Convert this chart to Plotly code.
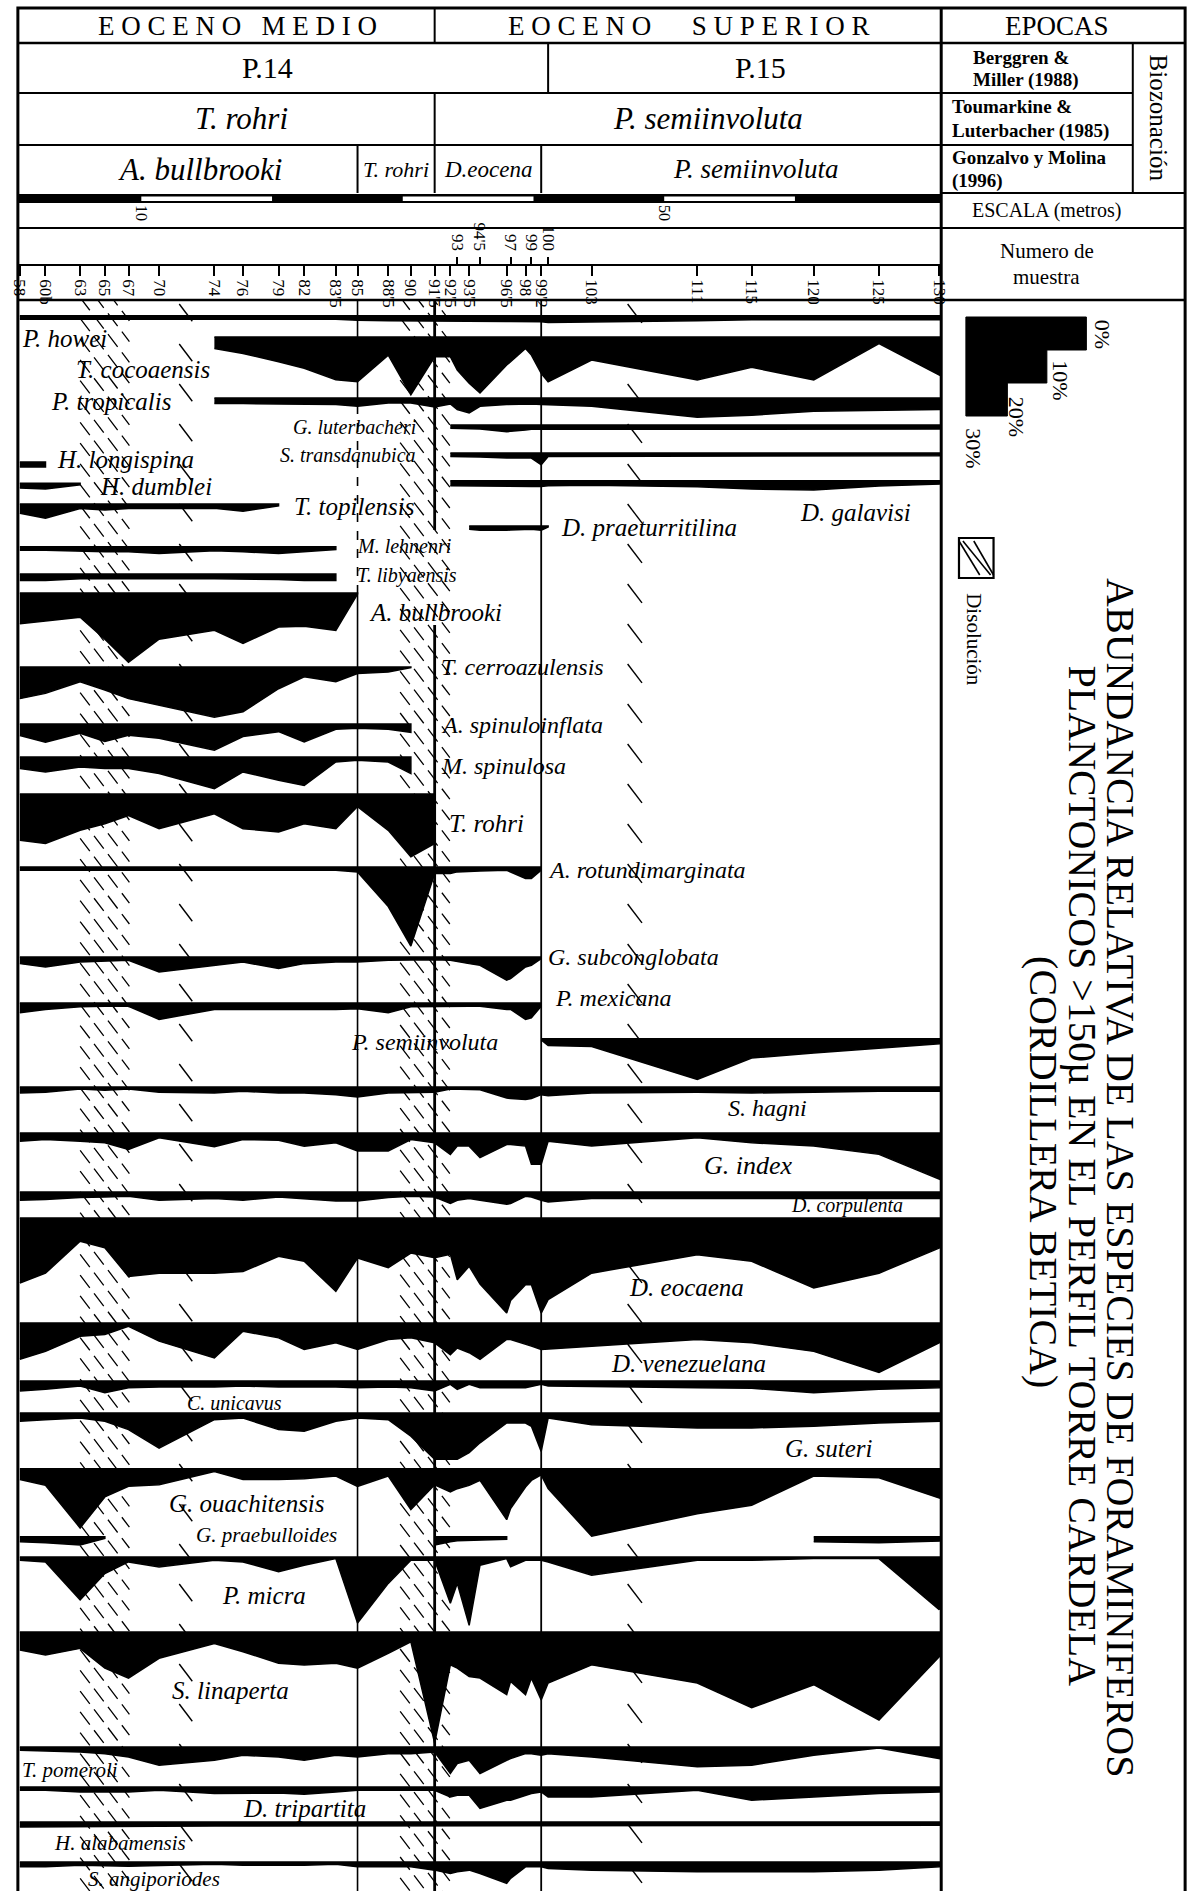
import plotly.graph_objects as go

W, H = 1202, 1891
SERIF = "Liberation Serif"
N = None

# ---------------- sample axis (stratigraphic position, metres) ----------------
sample_labels = ["58", "60b", "63", "65", "67", "70", "74", "76", "79", "82", "83'5", "85", "88'5", "90",
                 "91'5", "92'5", "93", "93'5", "94'5", "96'5", "97", "98", "99", "99'2", "100", "103",
                 "111", "115", "120", "125", "130"]
sample_m = [0.71, 2.67, 5.32, 7.21, 9.02, 11.36, 15.59, 17.78, 20.50, 22.46, 24.88, 26.54, 28.89, 30.62,
            32.44, 33.64, 34.17, 35.08, 35.91, 37.95, 38.25, 39.39, 39.84, 40.59, 41.12, 44.45,
            52.53, 56.69, 61.44, 66.43, 71.04]
upper_row_labels = ["93", "94'5", "97", "99", "100"]

# zone boundaries (by sample)
epoch_boundary = "91'5"
pzone_boundary = "100"
biozone_boundaries = ["85", "91'5", "99'2"]

# scale bar (metres)
scale_bar_m = [0, 10, 20, 30, 40, 50, 60, 70]
scale_labels_m = [10, 50]

# dissolution intervals (metres)
dissolution_bands_m = [(5.32, 9.09), (29.8, 33.6)]
dissolution_marks_m = [(12.9, 13.9), (47.2, 48.3)]

# ---------------- relative abundance (%) per sample ----------------
p_howei = [1, 1, 1, 1, 1, 1, 1, 1, 1, 1, 1, 1.3, 1.5, 1.5, 1.5, 1.5, 1.6, 1.7, 1.7, 1.7, 1.7, 1.7, 1.7, 1.8,
           2, 2, 1.5, 1.2, 1.2, 1.2, 1.2]
t_cocoaensis = [N, N, N, N, N, N, 3.5, 5, 7.5, 9.5, 13, 13.6, 5.5, 17.5, 6, 6, 10, 14, 17, 8.5, 7.5, 3.5, 5.5,
                11, 13.6, 7, 13, 9.2, 13, 2, 11.5]
p_tropicalis = [N, N, N, N, N, N, 1.7, 1.7, 1.8, 1.8, 2, 2.5, 1.5, 1.5, 2.7, 1.8, 3.5, 4.5, 2.5, 2, 2, 1.8, 1.8,
                2, 2.2, 2.5, 5.8, 5.2, 4, 3.7, 3.5]
g_luterbacheri = [N] * 15 + [1, 1, 1.2, 1.2, 2, 2, 1.5, 1.3, 1.2, 1.2, 1.2, 1.2, 1.2, 1.2, 1.2, 1.2]
s_transdanubica = [N] * 15 + [1, 1, 1.2, 1.2, 1.5, 1.5, 1.5, 1.5, 3.5, 1, 0.8, 0.8, 0.8, 0.8, 0.8, 0.8]
d_galavisi = [N] * 15 + [1.5, 1.5, 1.7, 1.5, 1.7, 1.7, 1.7, 1.7, 1.7, 1.5, 1.3, 1.8, 2.5, 2.8, 1.6, 1]
d_praeturritilina = [N] * 17 + [1, 1.3, 1.3, 1.2, 1, 1, 1.3, 0.3] + [N] * 6
h_longispina = [1.5, 1.5] + [N] * 29
h_dumblei = [1.5, 1.8, 0.5] + [N] * 28
t_topilensis = [2.8, 4.3, 1.4, 1.8, 1.4, 1.5, 1.3, 2.2, 0.6] + [N] * 22
m_lehnenri = [1, 1, 1.2, 1.5, 1.5, 2, 1.2, 1.5, 2, 1.5, 0.8] + [N] * 20
t_libyaensis = [2, 2, 1.5, 1.5, 1.5, 1.5, 1.5, 1.5, 1.7, 2, 2] + [N] * 20
a_bullbrooki = [9.3, 8.5, 7.3, 14, 21, 14, 11.3, 15.3, 10.3, 10.1, 11.3, 0.3] + [N] * 19
t_cerroazulensis = [9.6, 8, 4.5, 7, 9.6, 11.6, 15.2, 13.6, 6.6, 3, 4.5, 2, 1.5, 0.2] + [N] * 17
a_spinuloinflata = [3.5, 5.5, 2.8, 5.3, 3.4, 4.3, 7.9, 3.8, 2.3, 5.4, 1.6, 1.3, 1.6, 2.5] + [N] * 17
m_spinulosa = [3.5, 4.5, 3, 3.5, 3.5, 5, 9.6, 4.5, 7, 8.6, 1.5, 1, 1.5, 5] + [N] * 17
t_rohri = [14, 15, 11, 9, 6.5, 10.5, 6, 10.5, 11.5, 9, 10.5, 3.8, 11, 19, 15] + [N] * 16
a_rotundimarginata = [1] * 11 + [1.5, 12, 24, 2, 2, 1.5, 1.3, 1.2, 1, 1.5, 3.5, 3.5, 1] + [N] * 7
g_subconglobata = [2, 3, 1.5, 1.2, 1, 4.5, 2.5, 1.5, 3.5, 2, 1.5, 1.5, 1, 0.8, 0.8, 1, 1.5, 2, 2.5, 7, 6.5,
                   3, 2.5, 0.5] + [N] * 7
p_mexicana = [3, 2, 1.2, 1, 1, 5, 2, 1.8, 2, 2, 2, 1.8, 3, 1.2, 1, 1, 1, 1, 1, 2, 2, 5, 4.5, 1] + [N] * 7
p_semiinvoluta = [N] * 23 + [0.3, 2, 2.3, 12.3, 5.8, 4.3, 2.8, 1.5]
s_hagni = [1.8, 1.6, 0.6, 1, 0.6, 1.6, 1.8, 1.3, 1.8, 1.8, 2.3, 3, 1.8, 1.6, 1.6, 0.6, 0.6, 0.8, 0.8, 3.3,
           3.5, 3.8, 3.5, 2.3, 2.6, 1.8, 1.6, 1.8, 1.6, 1.3, 1.3]
g_index = [2.5, 2, 2.5, 3, 5, 1.5, 4.2, 2, 2.2, 4, 3, 5.5, 5.5, 2, 3, 6.5, 4, 4, 7.5, 3.5, 3.5, 4, 9.5, 9.5,
           2.5, 4, 1.5, 3, 4, 6.5, 14]
d_corpulenta = [2.5, 2.3, 1.7, 1.5, 1.3, 2.5, 2, 2.5, 1.5, 2, 2.7, 2.7, 1.7, 1.3, 1.5, 3.5, 2.5, 2, 2.5, 3.7,
                3.5, 1.3, 1.5, 2.5, 3, 2, 1.8, 1.8, 2, 2, 2]
d_eocaena = [19.7, 16.7, 7, 9, 17.7, 16.7, 16.7, 16.2, 11.6, 13.1, 22.2, 12.1, 15, 10.6, 12, 11, 18.7, 14.6,
             20, 28.8, 25, 20.2, 20.2, 28.8, 24.7, 16.7, 11.1, 13.1, 21.2, 16.7, 9.1]
d_venezuelana = [11, 8.6, 4, 3.5, 1, 5.5, 10.6, 2.5, 4.5, 8, 6, 8, 5, 4.5, 6, 9.6, 7.6, 9, 11, 5, 5, 6.5, 7,
                 8, 8, 7, 5, 6, 8.6, 15, 6]
c_unicavus = [3, 2.5, 1.5, 3.5, 2, 1.8, 1.8, 1.5, 1.8, 1.8, 1.8, 2, 1.8, 2, 3, 1, 2.5, 1, 2, 2, 2, 2, 1.5, 1,
              1.5, 1.5, 2, 2.2, 3.5, 2.5, 2]
g_suteri = [2.5, 2, 1.5, 2.5, 5, 10.6, 2, 1.5, 5, 5.5, 2.5, 1.5, 2, 7, 14, 14, 14, 12, 9, 3, 3, 3, 4, 11.6,
            1.5, 3.5, 4.5, 4.5, 4, 3, 2.5]
g_ouachitensis = [3.2, 5, 17.9, 8.5, 5.3, 4.8, 0.8, 3.2, 3.2, 3, 2.2, 5.3, 2.2, 12.3, 4.8, 7, 6, 5, 3.5, 15.4,
                  12, 5.5, 3.5, 1.8, 6, 20.4, 13.6, 11, 2.2, 2.7, 8.8]
g_praebulloides = [1.5, 1.8, 2.5, 0.5] + [N] * 10 + [2.5, 1.5, 1.2, 1, 1, 0.7] + [N] * 8 + [1.5, 1.8, 1.3]
p_micra = [1, 1.5, 13, 5, 1.5, 3, 1, 1.5, 4.5, 2.5, 0.5, 20, 8, 1, 1, 14, 8, 20.7, 2.5, 0.5, 3, 1, 1, 1, 1.5,
           5.5, 1, 1, 0.5, 0.5, 16]
s_linaperta = [5.5, 7, 5, 11, 14, 8, 3.5, 6, 9.5, 10, 9.5, 11, 6.5, 3, 33.7, 10, 11, 13.5, 14, 19, 15, 19, 14,
               20.6, 15.5, 10, 15.5, 23, 16, 26.7, 7.5]
t_pomeroli = [1, 1.3, 1.5, 2, 3, 5.5, 4, 2.5, 3, 4, 2.5, 3, 2, 2, 1.5, 8, 5, 4, 8, 4, 3.5, 2, 2, 2.5, 2, 3, 6,
              5.5, 2.5, 0.3, 3.5]
d_tripartita = [1, 1, 1.5, 1.5, 1.5, 1, 2, 2, 1.8, 2.2, 1.5, 1, 1, 1, 1, 3, 2.5, 2.5, 6.5, 4, 4, 2.5, 2, 1.5,
                3, 3, 1, 4, 3, 2, 1.5]
h_alabamensis = [1.5, 1.5, 1.4, 1.4, 1.3, 1.3, 1.2, 1.2, 1.2, 1.2, 1.1, 1.1, 1.1, 1, 1, 1, 1, 1, 1, 1, 1, 1,
                 1, 1, 1, 1, 1, 1, 1, 1, 1]
s_angiporiodes = [1.5, 1.5, 1, 1.2, 1.3, 1, 0.7, 1, 1, 1, 0.7, 1.5, 1.5, 1.5, 2.5, 3.5, 3, 2.5, 3.5, 6.5, 5,
                  1.5, 1.5, 1.5, 2, 2.5, 3, 3, 3, 2.5, 1.5]

species_names = ["P. howei", "T. cocoaensis", "P. tropicalis", "G. luterbacheri", "S. transdanubica",
                 "H. longispina", "D. galavisi", "H. dumblei", "T. topilensis", "D. praeturritilina",
                 "M. lehnenri", "T. libyaensis", "A. bullbrooki", "T. cerroazulensis", "A. spinuloinflata",
                 "M. spinulosa", "T. rohri", "A. rotundimarginata", "G. subconglobata", "P. mexicana",
                 "P. semiinvoluta", "S. hagni", "G. index", "D. corpulenta", "D. eocaena", "D. venezuelana",
                 "C. unicavus", "G. suteri", "G. ouachitensis", "G. praebulloides", "P. micra",
                 "S. linaperta", "T. pomeroli", "D. tripartita", "H. alabamensis", "S. angiporiodes"]
species_values = [p_howei, t_cocoaensis, p_tropicalis, g_luterbacheri, s_transdanubica, h_longispina,
                  d_galavisi, h_dumblei, t_topilensis, d_praeturritilina, m_lehnenri, t_libyaensis,
                  a_bullbrooki, t_cerroazulensis, a_spinuloinflata, m_spinulosa, t_rohri, a_rotundimarginata,
                  g_subconglobata, p_mexicana, p_semiinvoluta, s_hagni, g_index, d_corpulenta, d_eocaena,
                  d_venezuelana, c_unicavus, g_suteri, g_ouachitensis, g_praebulloides, p_micra,
                  s_linaperta, t_pomeroli, d_tripartita, h_alabamensis, s_angiporiodes]
# row baselines, measured in % units down from the top of the panel
row_baseline = [4.8, 11.2, 29.7, 37.9, 46.4, 49.1, 54.8, 55.5, 61.8, 68.5, 74.8, 83.0, 88.8, 111.2, 128.5,
                138.5, 149.7, 171.8, 199.1, 213.0, 223.9, 238.5, 252.4, 270.3, 278.2, 310.0, 327.6, 337.3,
                354.2, 374.8, 380.9, 403.6, 438.5, 450.6, 461.2, 473.3]

# ---------------- geometry ----------------
X0_PX, X1_PX = 10, 945
DATA_TOP = 300
PX_PER_M = (664.5 - 135) / 40.0
PX_PER_PCT = 3.3


def m_of_px(px):
    return 10 + (px - 135) / PX_PER_M


def px_of_m(m):
    return 135 + (m - 10) * PX_PER_M


def pct_of_py(py):
    return (py - DATA_TOP) / PX_PER_PCT


def PX(x):
    return x / W


def PY(y):
    return 1 - y / H


pos = dict(zip(sample_labels, sample_m))

fig = go.Figure()

# ---- dissolution hatching (drawn beneath the abundance curves) ----
SLOPE = 1.3
hx, hy = [], []
for m0, m1 in dissolution_bands_m:
    wpx = px_of_m(m1) - px_of_m(m0)
    y = DATA_TOP - wpx * SLOPE
    while y < H:
        hx += [m0, m1, None]
        hy += [pct_of_py(y), pct_of_py(y + wpx * SLOPE), None]
        y += 16 * SLOPE
fig.add_trace(go.Scatter(x=hx, y=hy, mode="lines", line=dict(color="black", width=1.3, dash="16px,7px"),
                         hoverinfo="skip", showlegend=False))
dx, dy = [], []
for m0, m1 in dissolution_marks_m:
    wpx = px_of_m(m1) - px_of_m(m0)
    y = DATA_TOP + 4
    while y < H:
        dx += [m0, m1, None]
        dy += [pct_of_py(y), pct_of_py(y + wpx * SLOPE), None]
        y += 40
fig.add_trace(go.Scatter(x=dx, y=dy, mode="lines", line=dict(color="black", width=1.4),
                         hoverinfo="skip", showlegend=False))

# ---- abundance profiles ----
for name, vals, base in zip(species_names, species_values, row_baseline):
    runs, cur = [], []
    for i, v in enumerate(vals):
        if v is None:
            if cur:
                runs.append(cur)
                cur = []
        else:
            cur.append(i)
    if cur:
        runs.append(cur)
    for run in runs:
        xs = [sample_m[i] for i in run]
        top = [base] * len(run)
        bot = [base + vals[i] for i in run]
        fig.add_trace(go.Scatter(x=xs + xs[::-1], y=top + bot[::-1], fill="toself", fillcolor="black",
                                 mode="lines", line=dict(color="black", width=1.5), name=name,
                                 hoverinfo="skip", showlegend=False))

# dummy traces so the tick axes are drawn
for ax in ["x2", "x3", "x4"]:
    fig.add_trace(go.Scatter(x=[sample_m[0]], y=[-50], xaxis=ax, yaxis="y", mode="markers",
                             marker=dict(size=1, opacity=0), hoverinfo="skip", showlegend=False))

shapes = []


def hline(y, x0, x1, w=2.0):
    shapes.append(dict(type="line", xref="paper", yref="paper", x0=PX(x0), x1=PX(x1), y0=PY(y), y1=PY(y),
                       line=dict(color="black", width=w)))


def vline(x, y0, y1, w=2.0):
    shapes.append(dict(type="line", xref="paper", yref="paper", x0=PX(x), x1=PX(x), y0=PY(y0), y1=PY(y1),
                       line=dict(color="black", width=w)))


def vline_m(m, y0, y1, w=2.0, dash="solid"):
    shapes.append(dict(type="line", xref="x", yref="paper", x0=m, x1=m, y0=PY(y0), y1=PY(y1),
                       line=dict(color="black", width=w, dash=dash), layer="above"))


# outer frame and table lines
shapes.append(dict(type="rect", xref="paper", yref="paper", x0=PX(10), x1=PX(1192), y0=PY(H + 5), y1=PY(8),
                   line=dict(color="black", width=3)))
hline(43, 10, 1192, 2.5)
hline(93, 10, 1139, 2)
hline(145, 10, 1139, 2)
hline(193, 945, 1192, 2)
hline(228, 10, 1192, 2)
hline(300, 10, 1192, 2.5)
vline(945, 8, H, 3)
vline(1139, 43, 193, 2)

# header dividers (zone boundaries)
vline_m(pos[epoch_boundary], 8, 43, 2)
vline_m(pos[pzone_boundary], 43, 93, 2)
vline_m(pos[epoch_boundary], 93, 145, 2)
for b in biozone_boundaries:
    vline_m(pos[b], 145, 193, 2)

# boundary lines through the data panel
vline_m(pos["85"], 300, 405, 1.6)
vline_m(pos["85"], 405, 590, 1.6, "dash")
vline_m(pos["85"], 590, H, 1.6)
vline_m(pos["91'5"], 300, 530, 2.8)
vline_m(pos["91'5"], 625, H, 2.8)
vline_m(pos["99'2"], 300, H, 1.8)

# scale bar
shapes.append(dict(type="rect", xref="x", yref="paper", x0=m_of_px(X0_PX), x1=m_of_px(X1_PX), y0=PY(203),
                   y1=PY(194), fillcolor="black", line=dict(width=0)))
for a, b in zip(scale_bar_m[1::2], scale_bar_m[2::2]):
    shapes.append(dict(type="rect", xref="x", yref="paper", x0=a, x1=b, y0=PY(201), y1=PY(196.5),
                       fillcolor="white", line=dict(width=0)))

# legend: abundance step scale
lx0, lx1, ltop = 970, 1092, 317
step_x = [lx1, 1052, 1012]
path = f"M {PX(lx0)} {PY(ltop)} L {PX(lx1)} {PY(ltop)}"
for k, sx in enumerate(step_x):
    yb = ltop + (k + 1) * 10 * PX_PER_PCT
    nxt = step_x[k + 1] if k + 1 < len(step_x) else lx0
    path += f" L {PX(sx)} {PY(yb)} L {PX(nxt)} {PY(yb)}"
path += " Z"
shapes.append(dict(type="path", xref="paper", yref="paper", path=path, fillcolor="black",
                   line=dict(color="black", width=1)))

# legend: dissolution box
bx0, bx1, by0, by1 = 963, 998, 538, 578
shapes.append(dict(type="rect", xref="paper", yref="paper", x0=PX(bx0), x1=PX(bx1), y0=PY(by1), y1=PY(by0),
                   line=dict(color="black", width=2.2), fillcolor="white"))
for k in range(3):
    xa = bx0 + 3 + k * 11
    shapes.append(dict(type="line", xref="paper", yref="paper", x0=PX(max(bx0, xa - 10)), y0=PY(by0 + 3),
                       x1=PX(min(bx1, xa + 18)), y1=PY(by1 - 3), line=dict(color="black", width=1.6)))

annotations = []


def text(t, x, y, size, xanchor="center", yanchor="middle", angle=0):
    annotations.append(dict(text=t, x=PX(x), y=PY(y), xref="paper", yref="paper", showarrow=False,
                            xanchor=xanchor, yanchor=yanchor, textangle=angle,
                            font=dict(family=SERIF, size=size, color="black")))


def spaced(s, gap=1, wordgap=3):
    words = s.split(" ")
    return ("\u00a0" * wordgap).join(("\u00a0" * gap).join(list(w)) for w in words)


# header
text(spaced("EOCENO MEDIO", 1, 3), 232, 26, 27)
text(spaced("EOCENO SUPERIOR", 1, 6), 690, 26, 27)
text("EPOCAS", 1062, 26, 27)
text("P.14", 263, 68, 30)
text("P.15", 762, 68, 30)
text("<i>T. rohri</i>", 236, 119, 31)
text("<i>P. semiinvoluta</i>", 709, 119, 31)
text("<i>A. bullbrooki</i>", 194, 169, 31)
text("<i>T. rohri</i>", 393, 169, 22)
text("<i>D.eocena</i>", 487, 169, 23)
text("<i>P. semiinvoluta</i>", 757, 169, 27)
text("<b>Berggren &amp;</b>", 975, 57, 19, "left")
text("<b>Miller (1988)</b>", 975, 80, 19, "left")
text("<b>Toumarkine &amp;</b>", 954, 107, 19, "left")
text("<b>Luterbacher (1985)</b>", 954, 131, 19, "left")
text("<b>Gonzalvo y Molina</b>", 954, 157, 19, "left")
text("<b>(1996)</b>", 954, 181, 19, "left")
text("Biozonación", 1166, 118, 25, angle=90)
text("ESCALA (metros)", 1052, 211, 20)
text("Numero de", 1052, 251, 21)
text("muestra", 1052, 277, 21)

# legend texts
text("0%", 1108, 334, 22, angle=90)
text("10%", 1065, 380, 22, angle=90)
text("20%", 1022, 417, 22, angle=90)
text("30%", 978, 448, 22, angle=90)
text("Disolución", 978, 640, 21, angle=90)
text("ABUNDANCIA RELATIVA DE LAS ESPECIES DE FORAMINIFEROS", 1127, 1178, 40, angle=90)
text("PLANCTONICOS >150µ EN EL PERFIL TORRE CARDELA", 1089, 1176, 40, angle=90)
text("(CORDILLERA BETICA)", 1049, 1172, 40, angle=90)

# species labels (left edge, vertical centre, size)
species_labels = [
    ("P. howei", 12, 339, 25), ("T. cocoaensis", 67, 370, 25), ("P. tropicalis", 42, 402, 25),
    ("G. luterbacheri", 287, 427, 20), ("S. transdanubica", 273, 455, 20), ("H. longispina", 48, 460, 25),
    ("H. dumblei", 91, 487, 25), ("T. topilensis", 288, 506, 25), ("D. praeturritilina", 558, 528, 25),
    ("D. galavisi", 800, 512, 25), ("M. lehnenri", 351, 546, 20), ("T. libyaensis", 351, 576, 20),
    ("A. bullbrooki", 364, 612, 25), ("T. cerroazulensis", 436, 667, 24), ("A. spinuloinflata", 436, 725, 24),
    ("M. spinulosa", 436, 766, 24), ("T. rohri", 445, 823, 25), ("A. rotundimarginata", 545, 870, 24),
    ("G. subconglobata", 545, 957, 24), ("P. mexicana", 552, 998, 24), ("P. semiinvoluta", 345, 1042, 24),
    ("S. hagni", 727, 1108, 24), ("G. index", 703, 1165, 26), ("D. corpulenta", 791, 1205, 20),
    ("D. eocaena", 627, 1287, 25), ("D. venezuelana", 609, 1363, 25), ("C. unicavus", 179, 1403, 20),
    ("G. suteri", 785, 1448, 25), ("G. ouachitensis", 161, 1503, 25), ("G. praebulloides", 188, 1535, 21),
    ("P. micra", 215, 1595, 25), ("S. linaperta", 164, 1690, 25), ("T. pomeroli", 12, 1770, 21),
    ("D. tripartita", 236, 1808, 25), ("H. alabamensis", 45, 1843, 21), ("S. angiporiodes", 79, 1879, 21),
]
for t, x, y, s in species_labels:
    text(f"<i>{t}</i>", x, y, s, "left")

lower_vals = [m for l, m in zip(sample_labels, sample_m) if l not in upper_row_labels]
lower_text = [l for l in sample_labels if l not in upper_row_labels]
upper_vals = [pos[l] for l in upper_row_labels]

xr = [m_of_px(X0_PX), m_of_px(X1_PX)]
tick_axis = dict(overlaying="x", anchor="free", range=xr, showgrid=False, zeroline=False,
                 tickmode="array", tickangle=90, tickcolor="black", tickwidth=1.5,
                 tickfont=dict(family=SERIF, size=17, color="black"))

fig.update_layout(
    width=W, height=H, margin=dict(l=0, r=0, t=0, b=0, pad=0),
    paper_bgcolor="white", plot_bgcolor="white", showlegend=False,
    font=dict(family=SERIF, color="black"),
    xaxis=dict(domain=[PX(X0_PX), PX(X1_PX)], range=xr, showgrid=False, zeroline=False,
               showticklabels=False, ticks="", showline=False),
    yaxis=dict(domain=[0, PY(DATA_TOP)], range=[pct_of_py(H), 0], showgrid=False, zeroline=False,
               showticklabels=False, ticks="", showline=False),
    xaxis2=dict(tick_axis, position=PY(265), side="bottom", ticks="outside", ticklen=10,
                tickvals=lower_vals, ticktext=lower_text, showline=True, linecolor="black", linewidth=1.5),
    xaxis3=dict(tick_axis, position=PY(265), side="top", ticks="outside", ticklen=8,
                tickvals=upper_vals, ticktext=upper_row_labels, showline=False),
    xaxis4=dict(tick_axis, position=PY(204), side="bottom", ticks="", ticklen=0,
                tickvals=scale_labels_m, ticktext=[str(v) for v in scale_labels_m], showline=False,
                tickfont=dict(family=SERIF, size=16, color="black")),
    shapes=shapes,
    annotations=annotations,
)

fig.write_html("out.html", config={"displayModeBar": False},
               post_script="document.body.style.margin='0';document.body.style.overflow='hidden';")
